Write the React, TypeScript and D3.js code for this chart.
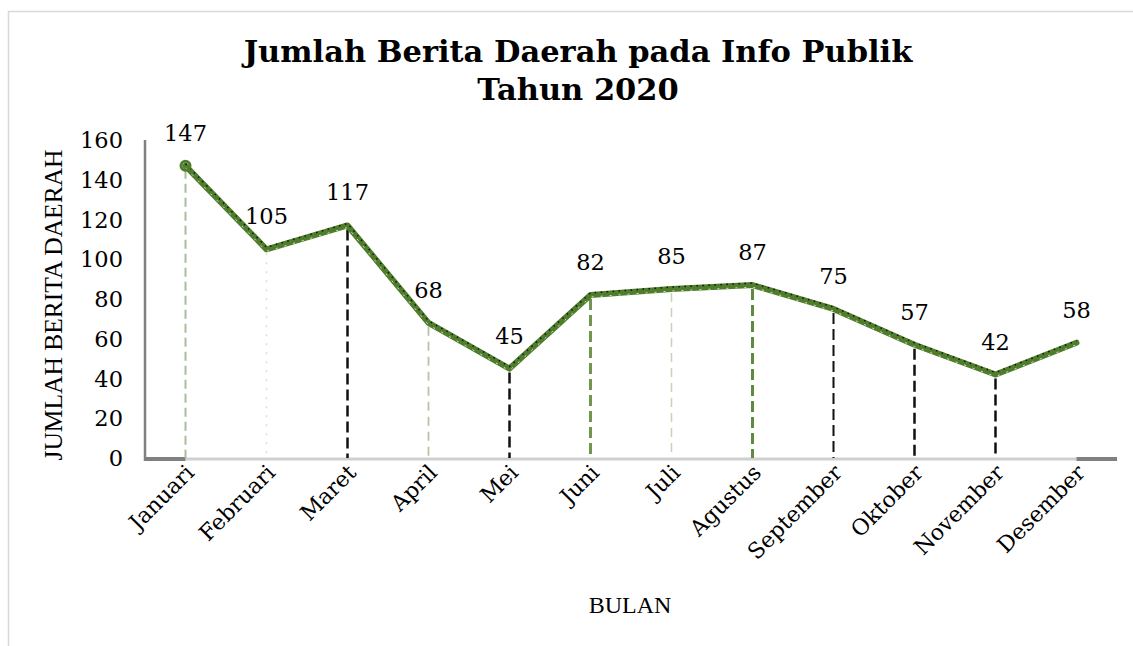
import React from "react";
import * as d3 from "d3";

const months = ["Januari","Februari","Maret","April","Mei","Juni","Juli","Agustus","September","Oktober","November","Desember"];
const values = [147,105,117,68,45,82,85,87,75,57,42,58];
const yTicks = [0,20,40,60,80,100,120,140,160];

const dropStyles = [
  { color: "#a8bd98", dash: "9,5", w: 2 },
  { color: "#dcdcdc", dash: "2,7", w: 1.5 },
  { color: "#111111", dash: "11,5", w: 2.5 },
  { color: "#b4c6a6", dash: "9,6", w: 1.8 },
  { color: "#111111", dash: "11,5", w: 2.5 },
  { color: "#6f9650", dash: "11,5", w: 3 },
  { color: "#c4d4b6", dash: "9,6", w: 1.5 },
  { color: "#5f8a3f", dash: "11,5", w: 3 },
  { color: "#111111", dash: "11,5", w: 2 },
  { color: "#111111", dash: "11,5", w: 2.5 },
  { color: "#111111", dash: "11,5", w: 2.5 },
  null,
];

export default function App() {
  const W = 1133, H = 646;
  const left = 145, right = 1117, top = 140, bottom = 458;
  const x = d3.scaleBand<string>().domain(months).range([left, right]).padding(0);
  const y = d3.scaleLinear().domain([0, 160]).range([bottom, top]);
  const cx = (m: string) => (x(m) as number) + x.bandwidth() / 2;
  const pts: [number, number][] = months.map((m, i) => [cx(m), y(values[i])]);
  const line = d3.line<[number, number]>().x(d => d[0]).y(d => d[1]);
  const serif = "'DejaVu Serif', serif";
  const times = "'Liberation Serif', 'Times New Roman', serif";
  const green = "#4f7d2c";
  return (
    <svg width={W} height={H} style={{ position: "absolute", left: 0, top: 0, background: "#fff" }}>
      <rect x={8.5} y={11.5} width={1140} height={650} fill="#fff" stroke="#d9d9d9" strokeWidth={1.5} />
      <text x={578} y={62} textAnchor="middle" fontFamily={serif} fontWeight="bold" fontSize={30.5} fill="#000">Jumlah Berita Daerah pada Info Publik</text>
      <text x={578} y={100} textAnchor="middle" fontFamily={serif} fontWeight="bold" fontSize={30.5} fill="#000">Tahun 2020</text>
      {yTicks.map(t => (
        <text key={t} x={123} y={y(t) + 8} textAnchor="end" fontFamily={serif} fontSize={22.5} fill="#000">{t}</text>
      ))}
      <text transform={`translate(62,${305}) rotate(-90)`} textAnchor="middle" fontFamily={times} fontSize={25.5} fill="#000">JUMLAH BERITA DAERAH</text>
      <text x={630} y={613} textAnchor="middle" fontFamily={times} fontSize={24} fill="#000">BULAN</text>
      {/* axes */}
      <line x1={cx(months[0])} x2={cx(months[11])} y1={bottom + 1} y2={bottom + 1} stroke="#cfcfcf" strokeWidth={3} />
      <line x1={left} x2={cx(months[0])} y1={bottom + 1} y2={bottom + 1} stroke="#808080" strokeWidth={4} />
      <line x1={cx(months[11])} x2={right} y1={bottom + 1} y2={bottom + 1} stroke="#808080" strokeWidth={4} />
      <line x1={left} x2={left} y1={top} y2={bottom + 3} stroke="#808080" strokeWidth={2.5} />
      {/* drop lines */}
      {months.map((m, i) => {
        const s = dropStyles[i];
        if (!s) return null;
        return <line key={m} x1={cx(m)} x2={cx(m)} y1={y(values[i]) + 4} y2={bottom} stroke={s.color} strokeWidth={s.w} strokeDasharray={s.dash} />;
      })}
      {/* line */}
      <path d={line(pts) || ""} fill="none" stroke={green} strokeWidth={6} strokeLinejoin="round" strokeLinecap="round" />
      <path d={line(pts.map(p => [p[0], p[1] - 2] as [number, number])) || ""} fill="none" stroke="#111" strokeWidth={1.5} strokeDasharray="1.5,4.5" />
      <path d={line(pts.map(p => [p[0], p[1] + 2] as [number, number])) || ""} fill="none" stroke="#d5e3c8" strokeWidth={1} strokeDasharray="2,7" />
      <circle cx={pts[0][0]} cy={pts[0][1]} r={4.5} fill="none" stroke={green} strokeWidth={3} />
      {/* data labels */}
      {months.map((m, i) => (
        <text key={m} x={cx(m)} y={y(values[i]) - 25} textAnchor="middle" fontFamily={serif} fontSize={22.5} fill="#000">{values[i]}</text>
      ))}
      {/* x labels */}
      {months.map(m => (
        <text key={m} transform={`translate(${cx(m) + 10},${474}) rotate(-45)`} textAnchor="end" fontFamily={serif} fontSize={22} fill="#000">{m}</text>
      ))}
    </svg>
  );
}
